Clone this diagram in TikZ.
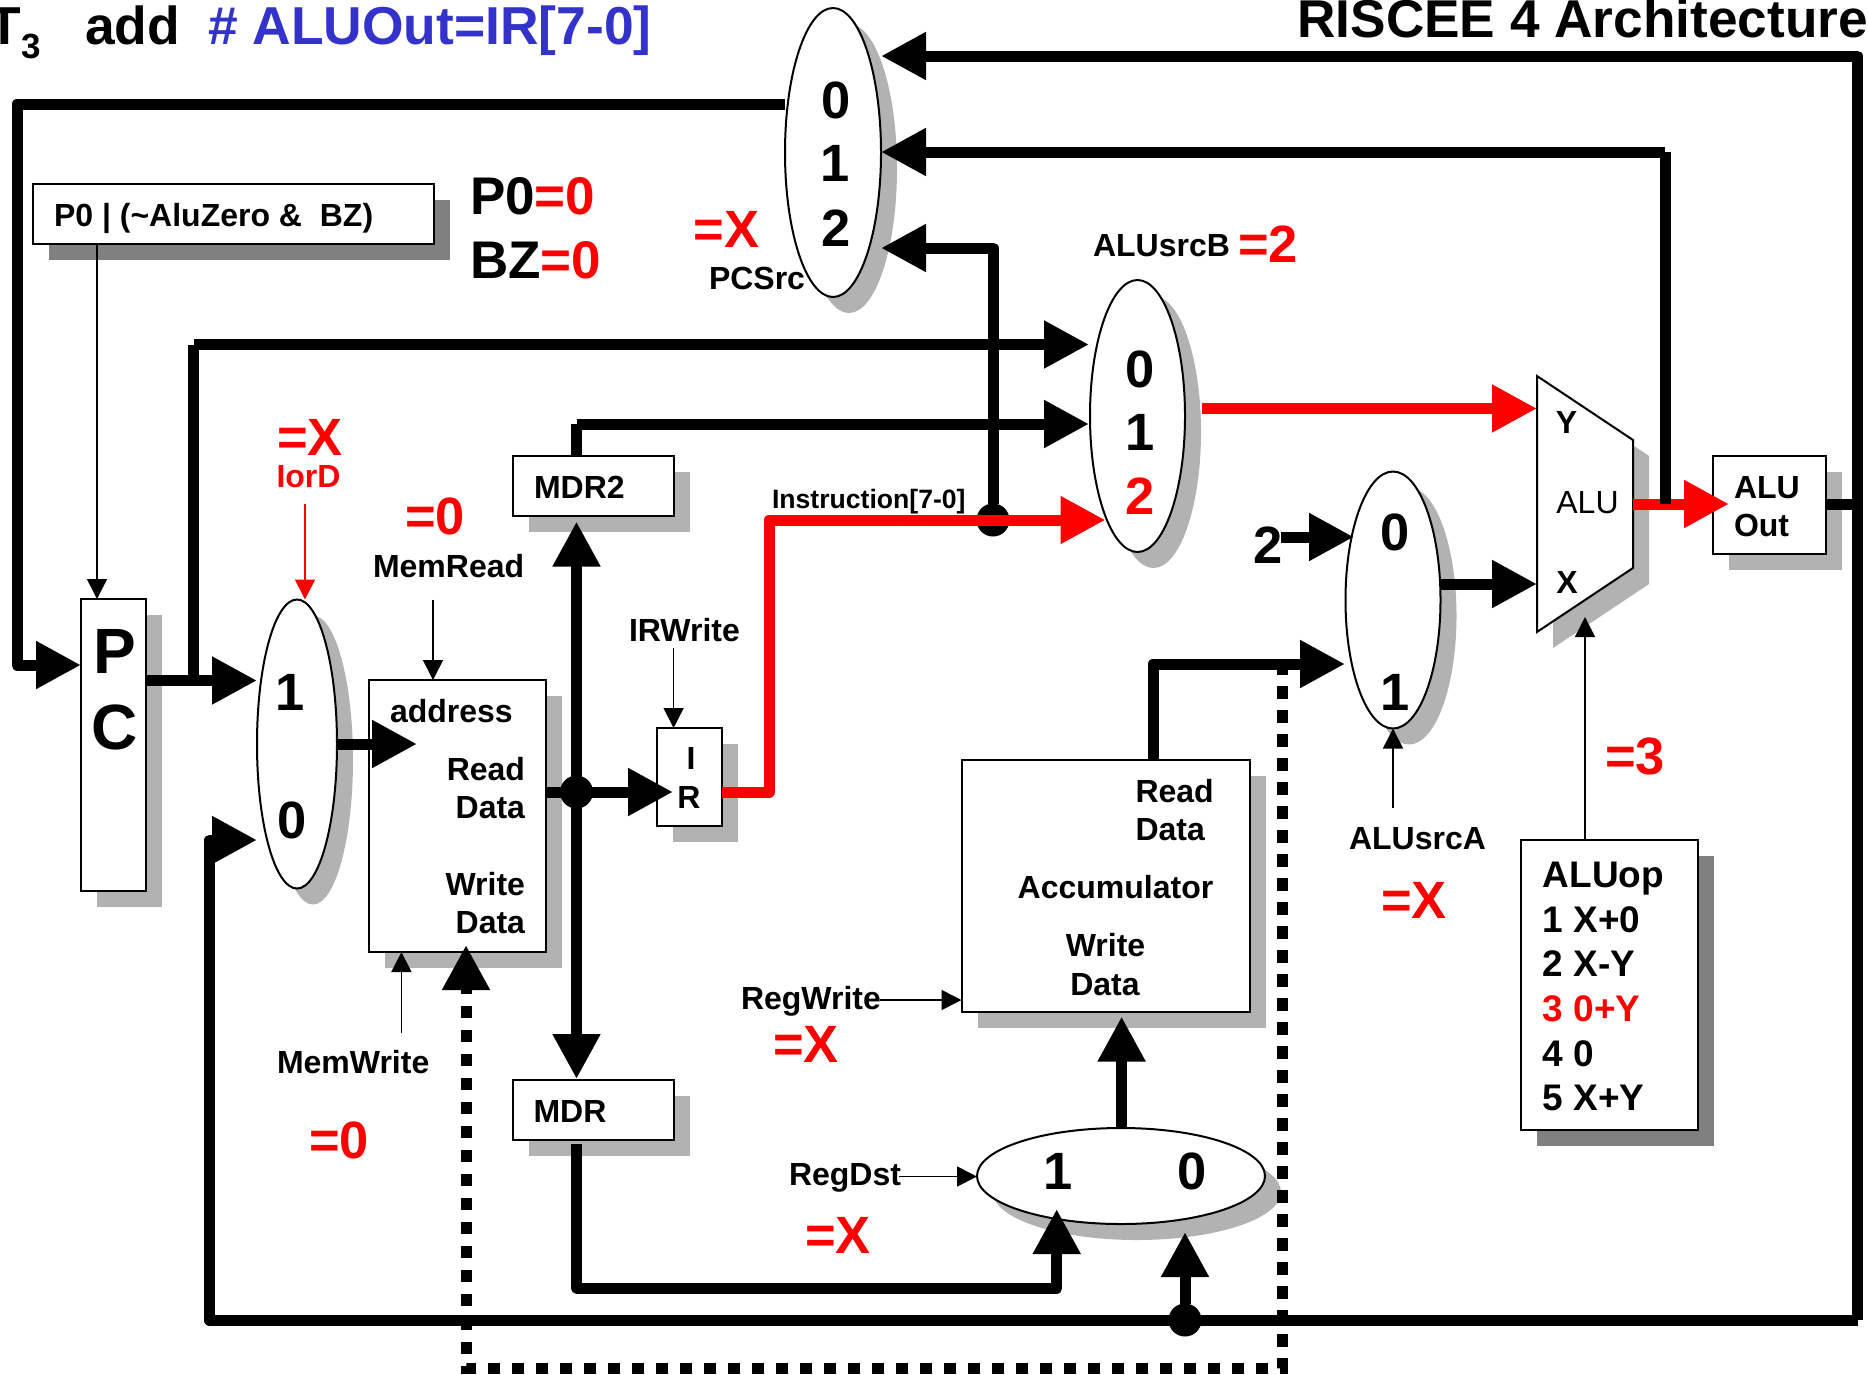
\documentclass[tikz,border=0pt]{standalone}
\usepackage{fontspec}
\setmainfont{Liberation Sans}
\usetikzlibrary{arrows.meta,shapes.geometric,shadows}
\definecolor{shlight}{HTML}{B2B2B2}
\definecolor{shdark}{HTML}{808080}
\definecolor{titleblue}{HTML}{3333CC}
\tikzset{
  sh/.style={copy shadow={shadow xshift=16pt,shadow yshift=-16pt,fill=#1,draw=none}},
  boxn/.style={draw=black,line width=2pt,fill=white,rectangle,inner sep=0pt,outer sep=0pt,anchor=north west},
  mux/.style={draw=black,line width=2pt,fill=white,ellipse,inner sep=0pt,outer sep=0pt,sh=shlight},
  bus/.style={line width=11pt,line join=round,-{Triangle[length=45pt,width=45pt]}},
  busplain/.style={line width=11pt,line join=round},
  ctl/.style={line width=1.6pt,-{Triangle[length=20pt,width=20pt]}},
  dotn/.style={circle,fill=black,draw=none,minimum size=33pt,inner sep=0pt,outer sep=0pt},
  tx/.style={inner sep=0pt,outer sep=0pt,anchor=base},
  txl/.style={inner sep=0pt,outer sep=0pt,anchor=base west},
  s26/.style={font=\bfseries\fontsize{26.6}{26.6}\selectfont,yshift=-9.3pt},
  s32/.style={font=\bfseries\fontsize{32}{32}\selectfont,yshift=-11.5pt},
  s37/.style={font=\bfseries\fontsize{37}{37}\selectfont,yshift=-13.2pt},
  s52/.style={font=\bfseries\fontsize{52.5}{52.5}\selectfont,yshift=-18.8pt},
  s53/.style={font=\bfseries\fontsize{53.4}{53.4}\selectfont},
  s64/.style={font=\bfseries\fontsize{64}{64}\selectfont,yshift=-23pt},
}
\begin{document}
\begin{tikzpicture}[x=1pt,y=-1pt]
\useasboundingbox (0,0) rectangle (1868,1374);

% headings
\node[txl,s53] (tT) at (-12,44) {T};
\node[txl,font=\bfseries\fontsize{35}{35}\selectfont] (tsub) at (21,58) {3};
\node[txl,s53] (tadd) at (85,44) {add};
\node[txl,s53,text=titleblue] (tcmt) at (208,44) {\# ALUOut=IR[7-0]};
\node[inner sep=0pt,outer sep=0pt,anchor=base east,font=\bfseries\fontsize{53.2}{53.2}\selectfont] (ttitle) at (1868,37) {RISCEE 4 Architecture};

% boxes
\node[boxn,sh=shdark,minimum width=401pt,minimum height=60pt] (p0box) at (33,184) {};
\node[boxn,sh=shlight,minimum width=65pt,minimum height=292pt] (pc) at (81,599) {};
\node[boxn,sh=shlight,minimum width=176.5pt,minimum height=272pt] (mem) at (369,680) {};
\node[boxn,sh=shlight,minimum width=161pt,minimum height=60pt] (mdrtwo) at (513,456) {};
\node[boxn,sh=shlight,minimum width=161pt,minimum height=60pt] (mdr) at (513,1080) {};
\node[boxn,sh=shlight,minimum width=65pt,minimum height=98pt] (ir) at (657,728) {};
\node[boxn,sh=shlight,minimum width=288.5pt,minimum height=252pt] (acc) at (961.5,760) {};
\node[boxn,sh=shlight,minimum width=112.5pt,minimum height=98pt] (aluout) at (1713,456) {};
\node[boxn,sh=shdark,minimum width=176.5pt,minimum height=290pt] (aluop) at (1521,840) {};

% multiplexers
\node[mux,minimum width=96pt,minimum height=289pt] (pcsrc) at (833,152.5) {};
\node[mux,minimum width=95pt,minimum height=272pt] (srcb) at (1137.5,416) {};
\node[mux,minimum width=95pt,minimum height=257pt] (srca) at (1393,600) {};
\node[mux,minimum width=80pt,minimum height=289pt] (iord) at (297,744) {};
\node[mux,minimum width=288pt,minimum height=96pt] (regdst) at (1121,1176) {};

% ALU
\fill[shlight,shift={(16,16)}] (1537,376) -- (1633,440) -- (1633,568) -- (1537,632) -- cycle;
\draw[line width=2pt,fill=white,line join=miter] (1537,376) coordinate (aluA) -- (1633,440) coordinate (aluB) -- (1633,568) coordinate (aluC) -- (1537,632) coordinate (aluD) -- cycle;

% named ports
\coordinate (pcsZero) at (881,56);
\coordinate (pcsOne) at (881,152);
\coordinate (pcsTwo) at (881,248);
\coordinate (pcsOut) at (785,104);
\coordinate (srcbZero) at (1089,344.5);
\coordinate (srcbOne) at (1089,424);
\coordinate (srcbTwo) at (1105.5,520);
\coordinate (aluY) at (1537,408.5);
\coordinate (aluX) at (1537,584);
\coordinate (srcaZero) at (1354,537);
\coordinate (srcaOne) at (1345,664);
\coordinate (jA) at (17,104);
\coordinate (jB) at (17,665);
\coordinate (pcIn) at (81,665);
\coordinate (jPC) at (193.5,680.5);
\coordinate (jPCb) at (193.5,344.5);
\coordinate (iordOne) at (257,680.5);
\coordinate (iordZero) at (257,840);
\coordinate (memAddr) at (417,744);
\coordinate (memOut) at (545.5,792);
\coordinate (irIn) at (673,792);
\coordinate (irOut) at (722,792);
\coordinate (jR) at (769,792);
\coordinate (jRb) at (769,520);
\coordinate (mdrtwoIn) at (576.5,521.5);
\coordinate (mdrIn) at (576.5,1079);
\coordinate (mdrtwoTop) at (576.5,456);
\coordinate (mdrtwoC) at (576.5,424);
\coordinate (mdrOut) at (576.5,1144);
\coordinate (mdrC) at (576.5,1288);
\coordinate (mdrD) at (1056.7,1288);
\coordinate (regOne) at (1056.7,1209);
\coordinate (regZero) at (1185,1232);
\coordinate (busW) at (209.6,1320);
\coordinate (busE) at (1857.5,1320);
\coordinate (busTop) at (1857.5,56);
\coordinate (busIn) at (1825.5,504);
\coordinate (busJ) at (1857.5,504);
\coordinate (aluO) at (1633,504);
\coordinate (aluT) at (1729,504);
\coordinate (aluFb) at (1665,504);
\coordinate (aluFc) at (1665,152);
\coordinate (accTop) at (1153,760);
\coordinate (accC) at (1153,664);
\coordinate (dashS) at (1282,669);
\coordinate (dashC) at (1282,1368);
\coordinate (dashD) at (466,1368);
\coordinate (dashE) at (466,945);
\coordinate (regTop) at (1121.6,1128);
\coordinate (accIn) at (1121.6,1016.5);
\coordinate (twoOut) at (1281,537);
\coordinate (srcbOut) at (1202,408.5);
\coordinate (srcaOut) at (1441,584);
\coordinate (jX) at (993,248);
\coordinate (irDot) at (576.5,792);

% junction dots
\node[dotn] (dotR) at (irDot) {};
\node[dotn] (dotI) at (993,520) {};
\node[dotn] (dotB) at (1185,1320) {};

% thick connectors
\draw[busplain] (pcsOut) -- (jA) -- (jB) -- ++(20,0);
\draw[bus] (jA |- jB) -- (pcIn);
\draw[busplain] (jPC) -- (jPCb);
\draw[bus] (jPCb) -- (srcbZero);
\draw[bus] (pc.east |- jPC) -- (iordOne);
\draw[bus] (iord.east |- memAddr) -- (memAddr);
\draw[bus] (memOut) -- (irIn);
\draw[bus] (irDot) -- (mdrtwoIn);
\draw[bus] (irDot) -- (mdrIn);
\draw[busplain] (mdrtwoTop) -- (mdrtwoC);
\draw[bus] (mdrtwoC) -- (srcbOne);
\draw[bus] (mdrOut) -- (mdrC) -- (mdrD) -- (regOne);
\draw[bus] (busE) -- (busW) -- (busW |- iordZero) -- (iordZero);
\draw[busplain] (busIn) -- (busJ);
\draw[bus] (busE) -- (busTop) -- (pcsZero);
\draw[bus] (dotB) -- (regZero);
\draw[bus] (dotI) -- (jX) -- (pcsTwo);
\draw[bus] (accTop) -- (accC) -- (srcaOne);
\draw[bus] (regTop) -- (accIn);
\draw[bus] (twoOut) -- (srcaZero);
\draw[bus] (srcaOut) -- (aluX);
\draw[bus,dash pattern=on 12.5pt off 11.5pt,dash phase=7pt,line join=miter] (dashS) -- (dashC) -- (dashD) -- (dashE);

% red connectors
\draw[bus,red] (irOut) -- (jR) -- (jRb) -- (srcbTwo);
\draw[bus,red] (srcbOut) -- (aluY);
\draw[bus,red] (aluO) -- (aluT);
\draw[busplain] (aluFb) -- (aluFc);
\draw[bus] (aluFc) -- (pcsOne);

% control arrows
\draw[ctl] (p0box.south -| 97,0) -- (pc.north -| 97,0);
\coordinate (iordCtl) at (305,504);
\draw[ctl,red] (iordCtl) -- (iord.north -| iordCtl);
\coordinate (memrd) at (433,599.5);
\draw[ctl] (memrd) -- (mem.north -| memrd);
\coordinate (memwr) at (401.4,1033);
\draw[ctl] (memwr) -- (mem.south -| memwr);
\coordinate (irwr) at (673.6,648);
\draw[ctl] (irwr) -- (ir.north -| irwr);
\coordinate (rw) at (880,1000);
\draw[ctl] (rw) -- (acc.west |- rw);
\coordinate (rd) at (899,1176.5);
\draw[ctl] (rd) -- (regdst.west |- rd);
\coordinate (sa) at (1393,808);
\draw[ctl] (sa) -- (srca.south);
\coordinate (opc) at (1585,840);
\coordinate (opt) at (1585,617);
\draw[ctl] (opc) -- (opt);

% labels
\node[txl,s32] (lp0) at (54,215) {P0 | (\textasciitilde AluZero \&\ \ BZ)};
\node[txl,s52,font=\bfseries\fontsize{53}{53}\selectfont] (lpz) at (470,196) {P0\textcolor{red}{=0}};
\node[txl,s52,font=\bfseries\fontsize{53}{53}\selectfont] (lbz) at (470,260) {BZ\textcolor{red}{=0}};
\node[txl,s52,text=red] (lx1) at (693.5,229) {=X};
\node[txl,s32] (lpcs) at (709,278) {PCSrc};
\node[tx,s52] (d0) at (836,100) {0};
\node[tx,s52] (d1) at (835.5,163) {1};
\node[tx,s52] (d2) at (836,228) {2};
\node[tx,s64] (lP) at (114.5,650) {P};
\node[tx,s64] (lC) at (114.5,726) {C};
\node[tx,s52] (i1) at (290,692) {1};
\node[tx,s52] (i0) at (292,820) {0};
\node[txl,s52,text=red] (lx2) at (277,437) {=X};
\node[txl,s32,text=red] (liord) at (276.5,475.5) {IorD};
\node[txl,s52,text=red] (lz1) at (405,516) {=0};
\node[txl,s32] (lmr) at (373,566) {MemRead};
\node[txl,s32] (laddr) at (390,711) {address};
\node[inner sep=0pt,outer sep=0pt,anchor=base east,s32] (lr1) at (525,769) {Read};
\node[inner sep=0pt,outer sep=0pt,anchor=base east,s32] (ld1) at (525,807) {Data};
\node[inner sep=0pt,outer sep=0pt,anchor=base east,s32] (lw1) at (525,884) {Write};
\node[inner sep=0pt,outer sep=0pt,anchor=base east,s32] (ld2) at (525,922) {Data};
\node[txl,s32] (lmdrt) at (534,486.5) {MDR2};
\node[txl,s32] (lmdr) at (533.5,1111) {MDR};
\node[tx,s32] (lI) at (691,758) {I};
\node[tx,s32] (lR) at (689,796.5) {R};
\node[txl,s32] (lirw) at (629,630) {IRWrite};
\node[txl,s26] (linst) at (772,499.5) {Instruction[7-0]};
\node[txl,s32] (lsrcb) at (1093,245) {ALUsrcB};
\node[txl,s52,text=red] (l2a) at (1238,244) {=2};
\node[tx,s52] (b0) at (1140.5,369) {0};
\node[tx,s52] (b1) at (1140.5,432) {1};
\node[tx,s52,text=red] (b2) at (1140.5,496) {2};
\node[txl,s52] (ltwo) at (1253,545) {2};
\node[tx,s52] (a0) at (1395.5,532) {0};
\node[tx,s52] (a1) at (1395,692) {1};
\node[tx,s32] (lY) at (1566.5,421.5) {Y};
\node[tx,s32] (lX) at (1567,582) {X};
\node[tx,font=\fontsize{32}{32}\selectfont,yshift=-11.5pt] (lalu) at (1587.5,502) {ALU};
\node[txl,s32] (lao1) at (1734,486.5) {ALU};
\node[txl,s32] (lao2) at (1734,525) {Out};
\node[txl,s52,text=red] (l3) at (1605,756) {=3};
\node[txl,s32] (lsa) at (1349,838) {ALUsrcA};
\node[txl,s52,text=red] (lx3) at (1381,900) {=X};
\node[txl,s37] (op0) at (1542.7,874.5) {ALUop};
\node[txl,s37] (op1) at (1542.7,919) {1 X+0};
\node[txl,s37] (op2) at (1542.7,963) {2 X-Y};
\node[txl,s37,text=red] (op3) at (1542.7,1008) {3 0+Y};
\node[txl,s37] (op4) at (1542.7,1053) {4 0};
\node[txl,s37] (op5) at (1542.7,1097) {5 X+Y};
\node[txl,s32] (lrr) at (1135.5,791) {Read};
\node[txl,s32] (lrd) at (1135.5,828.5) {Data};
\node[tx,s32] (lacc) at (1115.5,887) {Accumulator};
\node[tx,s32] (lww) at (1105.5,945) {Write};
\node[tx,s32] (lwd) at (1105,983.5) {Data};
\node[txl,s32] (lrw) at (741,998) {RegWrite};
\node[txl,s52,text=red] (lx4) at (773,1044) {=X};
\node[txl,s32] (lrgd) at (789,1174) {RegDst};
\node[txl,s52,text=red] (lx5) at (805,1235) {=X};
\node[tx,s52] (r1) at (1057.7,1171) {1};
\node[tx,s52] (r0) at (1192,1171) {0};
\node[txl,s32] (lmw) at (277,1062) {MemWrite};
\node[txl,s52,text=red] (lz2) at (309,1139.5) {=0};
\end{tikzpicture}
\end{document}
